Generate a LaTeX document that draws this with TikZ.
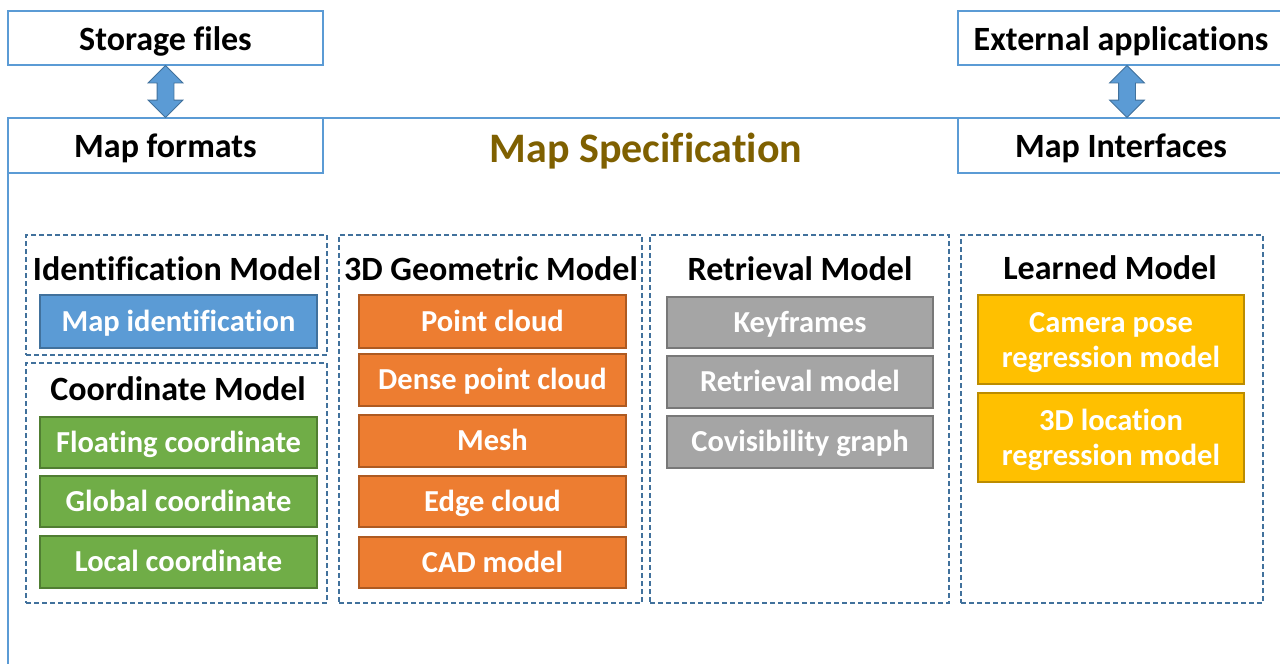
\documentclass[tikz,border=0pt]{standalone}
\usepackage{fontspec}
\setmainfont{Carlito}[Ligatures=NoCommon]
\usetikzlibrary{shapes.arrows,calc}

\definecolor{frameblue}{HTML}{5B9BD5}
\definecolor{dashblue}{HTML}{41719C}
\definecolor{idfill}{HTML}{5B9BD5}
\definecolor{iddraw}{HTML}{41719C}
\definecolor{cofill}{HTML}{70AD47}
\definecolor{codraw}{HTML}{507E32}
\definecolor{geofill}{HTML}{ED7D31}
\definecolor{geodraw}{HTML}{AE5A21}
\definecolor{retfill}{HTML}{A5A5A5}
\definecolor{retdraw}{HTML}{787878}
\definecolor{lrnfill}{HTML}{FFC000}
\definecolor{lrndraw}{HTML}{BC8C00}
\definecolor{titlebrown}{HTML}{7F6000}

\tikzset{
  corners/.style n args={4}{at={({(#1+#3)/2},{(#2+#4)/2})},
    minimum width={(#3-#1)*1pt}, minimum height={(#4-#2)*1pt}},
  bigtxt/.style={font=\fontsize{34}{40}\selectfont\bfseries, text height=21.9pt, text depth=0pt},
  smalltxt/.style={font=\fontsize{30.5}{35}\selectfont\bfseries, text height=19.6pt, text depth=0pt},
  topbox/.style={draw=frameblue, line width=1.3pt, fill=white, inner sep=0pt, bigtxt, text height=24.9pt},
  group/.style={draw=dashblue, line width=1.2pt, dash pattern=on 5pt off 3pt, inner sep=0pt},
  head/.style={bigtxt, text=black, inner sep=0pt},
  item/.style={line width=1.4pt, inner sep=0pt, text=white, smalltxt, align=center},
  idbox/.style={item, fill=idfill, draw=iddraw},
  cobox/.style={item, fill=cofill, draw=codraw},
  geobox/.style={item, fill=geofill, draw=geodraw},
  retbox/.style={item, fill=retfill, draw=retdraw},
  lrnbox/.style={item, fill=lrnfill, draw=lrndraw, text height=, text depth=0pt},
  link/.style={double arrow, rotate=90, fill=frameblue, draw=dashblue, line width=0.8pt,
    minimum width=34pt, double arrow head extend=9pt, inner xsep=0pt, inner ysep=8pt,
    minimum height=52pt}
}

\begin{document}
\begin{tikzpicture}[x=1pt,y=-1pt]
\useasboundingbox (0,0) rectangle (1280,664);
\fill[white] (0,0) rectangle (1280,664);

% outer specification frame
\draw[frameblue, line width=1.3pt] (8,664) -- (8,118) -- (1282,118);

% storage side
\node[topbox, corners={8}{11}{323}{65}] (storage) {Storage files};
\node[topbox, corners={8}{118}{323}{173}] (formats) {Map formats};
% application side
\node[topbox, corners={958}{11}{1284}{65}] (external) {External applications};
\node[topbox, corners={958}{118}{1284}{173}] (interfaces) {Map Interfaces};

\node[link] (arrL) at ($(storage.south)!0.5!(formats.north)$) {};
\node[link] (arrR) at ($(external.south -| 1127,0)!0.5!(interfaces.north -| 1127,0)$) {};

\node[font=\fontsize{42}{50}\selectfont\bfseries, text=titlebrown, text height=27pt, text depth=0pt] (spec) at (646,148.5) {Map Specification};

% model groups
\node[group, corners={26}{235}{327}{355}] (gId) {};
\node[group, corners={26}{363}{327}{603}] (gCo) {};
\node[group, corners={339}{235}{642}{603}] (gGeo) {};
\node[group, corners={650}{235}{949}{603}] (gRet) {};
\node[group, corners={961}{235}{1263}{603}] (gLrn) {};

\node[head] (hId) at (177,269.5) {Identification Model};
\node[head] (hCo) at (178,389.5) {Coordinate Model};
\node[head] (hGeo) at (491,269.5) {3D Geometric Model};
\node[head] (hRet) at (800,269.5) {Retrieval Model};
\node[head] (hLrn) at (1110,268.5) {Learned Model};

% identification
\node[idbox, corners={40}{295}{317}{348}] (mapid) {Map identification};
% coordinates
\node[cobox, corners={40}{417}{317}{468}] (floating) {Floating coordinate};
\node[cobox, corners={40}{476}{317}{527}] (global) {Global coordinate};
\node[cobox, corners={40}{536}{317}{588}] (local) {Local coordinate};
% geometry
\node[geobox, corners={359}{295}{626}{348}] (pcl) {Point cloud};
\node[geobox, corners={359}{354}{626}{406}] (dense) {Dense point cloud};
\node[geobox, corners={359}{415}{626}{467}] (mesh) {Mesh};
\node[geobox, corners={359}{476}{626}{527}] (edge) {Edge cloud};
\node[geobox, corners={359}{537}{626}{588}] (cad) {CAD model};
% retrieval
\node[retbox, corners={667}{297}{933}{348}] (keyf) {Keyframes};
\node[retbox, corners={667}{356}{933}{408}] (retm) {Retrieval model};
\node[retbox, corners={667}{416}{933}{468}] (covis) {Covisibility graph};
% learned
\node[lrnbox, corners={978}{295}{1244}{384}] (campose) {Camera pose\\regression model};
\node[lrnbox, corners={978}{393}{1244}{482}] (loc3d) {3D location\\regression model};
\end{tikzpicture}
\end{document}
